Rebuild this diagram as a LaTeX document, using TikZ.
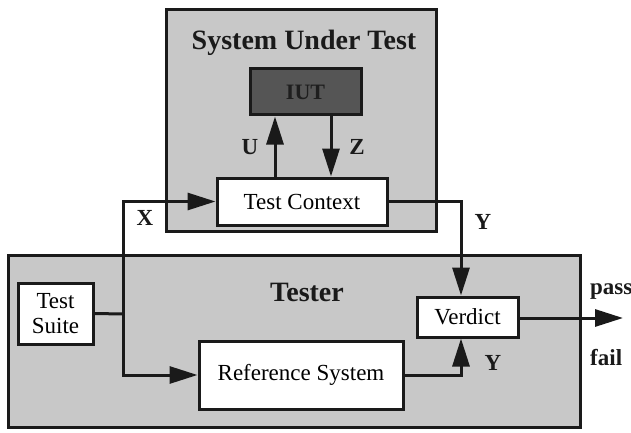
\documentclass[tikz,border=0pt]{standalone}
\usepackage{fontspec}
\setmainfont{Liberation Serif}
\usetikzlibrary{arrows.meta,calc}
\definecolor{panel}{HTML}{C8C8C8}
\definecolor{iutfill}{HTML}{555555}
\definecolor{iuttext}{HTML}{1E1E1E}
\definecolor{ink}{HTML}{1A1A1A}
\begin{document}
\begin{tikzpicture}[x=1pt,y=-1pt,line join=miter,
  panelbox/.style={draw=ink,line width=3pt,fill=panel,inner sep=0pt},
  whitebox/.style={draw=ink,line width=3pt,fill=white,inner sep=0pt,align=center,font=\fontsize{23}{25}\selectfont},
  titletext/.style={font=\fontsize{28}{30}\selectfont\bfseries,text=ink},
  lbl/.style={font=\fontsize{23}{25}\selectfont\bfseries,text=ink},
  conn/.style={draw=ink,line width=3pt},
  arr/.style={conn,-{Triangle[length=28pt,width=17pt]}}]
\useasboundingbox (0,0) rectangle (631,433);
\fill[white] (0,0) rectangle (631,433);
% panels
\node[panelbox,minimum width=270pt,minimum height=221pt] (SUT) at (301,120.5) {};
\node[titletext] (SUTt) at (304,43) {System Under Test};
\node[panelbox,minimum width=572pt,minimum height=172pt] (Tester) at (294,341) {};
\node[titletext] (Testert) at (307,292) {Tester};
% boxes
\node[draw=ink,line width=3pt,fill=iutfill,minimum width=111pt,minimum height=46pt,inner sep=0pt,font=\fontsize{22}{24}\selectfont\bfseries,text=iuttext] (IUT) at (305.5,92) {IUT};
\node[whitebox,minimum width=170pt,minimum height=47pt] (TC) at (302,201.5) {Test Context};
\node[whitebox,minimum width=75pt,minimum height=61pt] (TS) at (55.5,313.5) {Test\\Suite};
\node[whitebox,minimum width=101pt,minimum height=40pt] (V) at (467.5,317) {Verdict};
\node[whitebox,minimum width=204pt,minimum height=68pt] (Ref) at (301,375) {Reference System};
% helper coordinates
\coordinate (ux) at (275,150);
\coordinate (zx) at (331,150);
\coordinate (xj) at (123,314);
\coordinate (yx) at (461,300);
\coordinate (out) at (623,318);
% connectors
\draw[arr] (ux |- TC.north) -- (ux |- IUT.south);
\draw[arr] (zx |- IUT.south) -- (zx |- TC.north);
\draw[conn] (TS.east) -- (xj);
\draw[arr] (xj) |- (TC.west);
\draw[arr] (xj) |- (Ref.west);
\draw[arr] (TC.east) -| (yx |- V.north);
\draw[arr] (Ref.east) -| (yx |- V.south);
\draw[arr] (V.east |- out) -- (out);
% labels
\node[lbl] (lU) at (250,147) {U};
\node[lbl] (lZ) at (357,147) {Z};
\node[lbl] (lX) at (145,218) {X};
\node[lbl] (lY1) at (483,222) {Y};
\node[lbl] (lY2) at (493,363) {Y};
\node[lbl,anchor=west,inner sep=0pt] (lpass) at (590,292) {pass};
\node[lbl,anchor=west,inner sep=0pt] (lfail) at (590,358) {fail};
\end{tikzpicture}
\end{document}
